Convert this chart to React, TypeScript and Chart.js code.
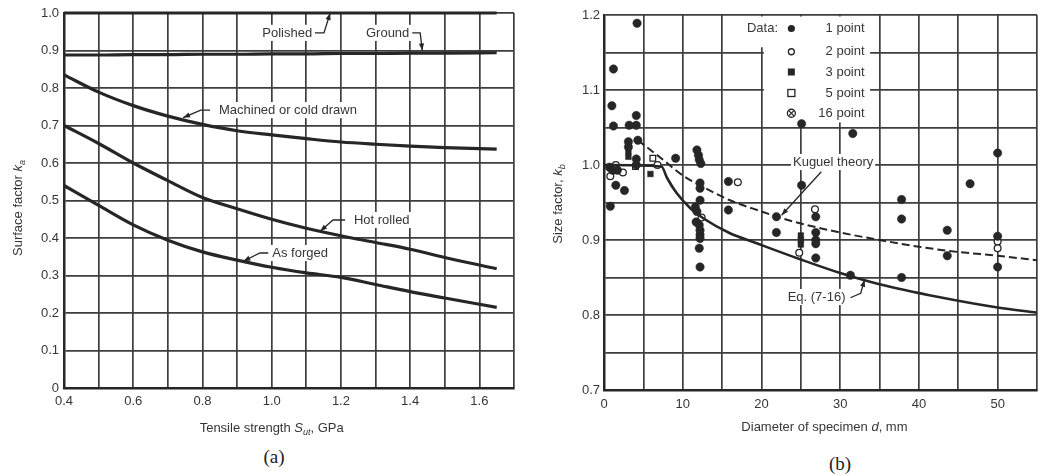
import React, { useEffect, useRef } from 'react';
import { Chart, registerables } from 'chart.js';

Chart.register(...registerables);

// ---------------- (a) Surface factor vs tensile strength ----------------
const strengthGPa = [0.4, 0.5, 0.6, 0.7, 0.8, 0.9, 1.0, 1.1, 1.2, 1.3, 1.4, 1.5, 1.65];
const polished = [1, 1, 1, 1, 1, 1, 1, 1, 1, 1, 1, 1, 1];
const ground = [0.888, 0.888, 0.889, 0.889, 0.89, 0.89, 0.891, 0.891, 0.892, 0.892, 0.893, 0.893, 0.894];
const machined = [0.835, 0.789, 0.753, 0.725, 0.703, 0.686, 0.675, 0.665, 0.656, 0.65, 0.645, 0.641, 0.637];
const hotRolled = [0.7, 0.652, 0.6, 0.553, 0.508, 0.478, 0.45, 0.426, 0.406, 0.388, 0.37, 0.348, 0.318];
const asForged = [0.54, 0.487, 0.435, 0.394, 0.363, 0.341, 0.322, 0.307, 0.295, 0.276, 0.257, 0.24, 0.215];
const surfaceLabels = ['Polished', 'Ground', 'Machined or cold drawn', 'Hot rolled', 'As forged'];

// ---------------- (b) Size factor vs diameter ----------------
const dia1 = [4.2, 1.2, 1.0, 1.2, 3.2, 4.1, 4.1, 4.3, 3.1, 3.1, 4.1, 4.1, 0.7, 1.1, 1.7, 1.5, 2.6, 0.8, 9.1, 11.8, 12.0, 12.1, 12.3, 12.2, 12.2, 12.2, 11.6, 11.8, 11.7, 12.1, 12.2, 12.2, 12.2, 12.1, 12.2, 15.8, 15.8, 21.9, 21.9, 25.1, 25.1, 26.9, 26.9, 26.9, 26.9, 26.9, 31.6, 31.3, 37.8, 37.8, 37.8, 43.6, 43.6, 46.5, 50.0, 50.0, 50.0];
const kb1 = [1.189, 1.128, 1.079, 1.052, 1.053, 1.053, 1.066, 1.033, 1.031, 1.024, 1.008, 1.0, 0.997, 0.993, 0.993, 0.973, 0.966, 0.945, 1.009, 1.02, 1.013, 1.007, 1.002, 0.976, 0.969, 0.953, 0.944, 0.938, 0.924, 0.92, 0.913, 0.907, 0.902, 0.889, 0.864, 0.978, 0.94, 0.931, 0.91, 1.055, 0.973, 0.931, 0.91, 0.9, 0.895, 0.876, 1.042, 0.853, 0.954, 0.928, 0.85, 0.913, 0.879, 0.975, 1.016, 0.905, 0.864];
const dia2 = [0.8, 1.5, 2.4, 6.8, 12.4, 17.0, 24.8, 26.8, 50.0, 50.0];
const kb2 = [0.985, 1.0, 0.99, 1.0, 0.93, 0.977, 0.883, 0.941, 0.898, 0.889];
const dia3 = [3.1, 3.1, 5.9, 25.0, 25.0, 25.0];
const kb3 = [1.018, 1.011, 0.988, 0.906, 0.9, 0.894];
const dia5 = [4.0, 6.2];
const kb5 = [0.998, 1.009];
const kuguelD = [4.3, 7.5, 10, 12.2, 16, 20, 22, 25, 30, 35, 40, 45, 50, 55];
const kuguelKb = [1.033, 1.007, 0.986, 0.973, 0.953, 0.938, 0.931, 0.922, 0.91, 0.9, 0.891, 0.884, 0.879, 0.873];
const eqD = [0, 7.3, 8, 9.2, 11, 12.6, 16, 19.3, 25, 30, 35, 42.5, 50, 55];
const eqKb = [1.0, 0.998, 0.983, 0.963, 0.942, 0.929, 0.909, 0.896, 0.874, 0.856, 0.841, 0.824, 0.81, 0.803];
const legendLabels = ['1 point', '2 point', '3 point', '5 point', '16 point'];
const legendStyles = ['dot', 'ring', 'square', 'box', 'cross'];

const FONT = '"Liberation Sans", Arial, Helvetica, sans-serif';
const INK = '#262626';
const TEXT = '#363636';
const GRID = '#3e3e3e';

type Seg = { t: string; italic?: boolean; sub?: boolean };

function drawRich(ctx: CanvasRenderingContext2D, segs: Seg[], cx: number, cy: number, size: number, rotate: boolean) {
  ctx.save();
  ctx.translate(cx, cy);
  if (rotate) ctx.rotate(-Math.PI / 2);
  const fontFor = (s: Seg) => `${s.italic ? 'italic ' : ''}${s.sub ? Math.round(size * 0.72) : size}px ${FONT}`;
  const widths = segs.map((s) => {
    ctx.font = fontFor(s);
    return ctx.measureText(s.t).width;
  });
  const total = widths.reduce((a, b) => a + b, 0);
  let x = -total / 2;
  ctx.fillStyle = TEXT;
  ctx.textBaseline = 'middle';
  ctx.textAlign = 'left';
  segs.forEach((s, i) => {
    ctx.font = fontFor(s);
    ctx.fillText(s.t, x, s.sub ? size * 0.32 : 0);
    x += widths[i];
  });
  ctx.restore();
}

function arrowPath(ctx: CanvasRenderingContext2D, pts: number[][]) {
  ctx.save();
  ctx.strokeStyle = INK;
  ctx.fillStyle = INK;
  ctx.lineWidth = 1.3;
  ctx.beginPath();
  pts.forEach((p, i) => (i === 0 ? ctx.moveTo(p[0], p[1]) : ctx.lineTo(p[0], p[1])));
  ctx.stroke();
  const [x1, y1] = pts[pts.length - 2];
  const [x2, y2] = pts[pts.length - 1];
  const a = Math.atan2(y2 - y1, x2 - x1);
  const L = 7;
  const W = 2.6;
  ctx.beginPath();
  ctx.moveTo(x2, y2);
  ctx.lineTo(x2 - L * Math.cos(a) + W * Math.sin(a), y2 - L * Math.sin(a) - W * Math.cos(a));
  ctx.lineTo(x2 - L * Math.cos(a) - W * Math.sin(a), y2 - L * Math.sin(a) + W * Math.cos(a));
  ctx.closePath();
  ctx.fill();
  ctx.restore();
}

function boxedText(ctx: CanvasRenderingContext2D, text: string, x: number, y: number, size: number) {
  ctx.save();
  ctx.font = `${size}px ${FONT}`;
  const w = ctx.measureText(text).width;
  const left = x - w / 2;
  ctx.fillStyle = '#ffffff';
  ctx.fillRect(left - 2, y - size * 0.62, w + 4, size * 1.24);
  ctx.fillStyle = TEXT;
  ctx.textBaseline = 'middle';
  ctx.textAlign = 'left';
  ctx.fillText(text, left, y + 0.5);
  ctx.restore();
}

type Note = { text: string; at: number[]; path: number[][] };

const surfaceNotes: Note[] = [
  { text: surfaceLabels[0], at: [1.045, 0.947], path: [[1.125, 0.947], [1.151, 0.947], [1.169, 1.0]] },
  { text: surfaceLabels[1], at: [1.335, 0.947], path: [[1.406, 0.947], [1.429, 0.947], [1.435, 0.9]] },
  { text: surfaceLabels[2], at: [1.047, 0.741], path: [[0.822, 0.741], [0.795, 0.741], [0.744, 0.721]] },
  { text: surfaceLabels[3], at: [1.318, 0.448], path: [[1.212, 0.448], [1.177, 0.448], [1.14, 0.418]] },
  { text: surfaceLabels[4], at: [1.082, 0.36], path: [[0.99, 0.36], [0.966, 0.36], [0.918, 0.338]] },
];

const sizeNotes: Note[] = [
  { text: 'Kuguel theory', at: [29.1, 1.004], path: [[27.6, 0.991], [22.55, 0.933]] },
  { text: 'Eq. (7-16)', at: [27.0, 0.824], path: [[31.3, 0.823], [32.6, 0.829], [33.1, 0.847]] },
];

function drawNotes(chart: any, notes: Note[]) {
  const ctx: CanvasRenderingContext2D = chart.ctx;
  const xs = chart.scales.x;
  const ys = chart.scales.y;
  notes.forEach((n) => {
    const pts = n.path.map((p) => [xs.getPixelForValue(p[0]), ys.getPixelForValue(p[1])]);
    arrowPath(ctx, pts);
    boxedText(ctx, n.text, xs.getPixelForValue(n.at[0]), ys.getPixelForValue(n.at[1]), 13);
  });
}

const surfacePlugin = {
  id: 'surfaceNotes',
  afterDatasetsDraw(chart: any) {
    drawNotes(chart, surfaceNotes);
    const ctx = chart.ctx;
    const xs = chart.scales.x;
    const ys = chart.scales.y;
    const a = chart.chartArea;
    drawRich(ctx, [{ t: 'Tensile strength ' }, { t: 'S', italic: true }, { t: 'ut', italic: true, sub: true }, { t: ', GPa' }], xs.getPixelForValue(1.0), a.bottom + 40, 13, false);
    drawRich(ctx, [{ t: 'Surface factor ' }, { t: 'k', italic: true }, { t: 'a', italic: true, sub: true }], 18, ys.getPixelForValue(0.48), 13, true);
  },
};

function drawMarker(ctx: CanvasRenderingContext2D, style: string, x: number, y: number) {
  ctx.save();
  ctx.strokeStyle = INK;
  ctx.fillStyle = INK;
  ctx.lineWidth = 1.3;
  if (style === 'dot') {
    ctx.beginPath();
    ctx.arc(x, y, 3.6, 0, Math.PI * 2);
    ctx.fill();
  } else if (style === 'ring') {
    ctx.beginPath();
    ctx.arc(x, y, 3, 0, Math.PI * 2);
    ctx.fillStyle = '#fff';
    ctx.fill();
    ctx.stroke();
  } else if (style === 'square') {
    ctx.fillRect(x - 3.5, y - 3.5, 7, 7);
  } else if (style === 'box') {
    ctx.fillStyle = '#fff';
    ctx.fillRect(x - 3.5, y - 3.5, 7, 7);
    ctx.strokeRect(x - 3.5, y - 3.5, 7, 7);
  } else {
    ctx.beginPath();
    ctx.arc(x, y, 4, 0, Math.PI * 2);
    ctx.stroke();
    const d = 2.6;
    ctx.beginPath();
    ctx.moveTo(x - d, y - d);
    ctx.lineTo(x + d, y + d);
    ctx.moveTo(x + d, y - d);
    ctx.lineTo(x - d, y + d);
    ctx.stroke();
  }
  ctx.restore();
}

const sizePlugin = {
  id: 'sizeNotes',
  beforeDatasetsDraw(chart: any) {
    // legend panel (white background over the grid)
    const ctx: CanvasRenderingContext2D = chart.ctx;
    const xs = chart.scales.x;
    const ys = chart.scales.y;
    ctx.save();
    ctx.fillStyle = '#ffffff';
    const r1x = xs.getPixelForValue(17.3);
    const r2x = xs.getPixelForValue(20.3);
    const rR = xs.getPixelForValue(33.8);
    const yTop = ys.getPixelForValue(1.2) + 1.5;
    const yMid = ys.getPixelForValue(1.157);
    const yBot = ys.getPixelForValue(1.056);
    ctx.fillRect(r1x, yTop, rR - r1x, yMid - yTop);
    ctx.fillRect(r2x, yMid - 0.5, rR - r2x, yBot - yMid);
    ctx.restore();
  },
  afterDatasetsDraw(chart: any) {
    const ctx: CanvasRenderingContext2D = chart.ctx;
    const xs = chart.scales.x;
    const ys = chart.scales.y;
    const a = chart.chartArea;
    const rows = [1.182, 1.151, 1.124, 1.096, 1.069];
    ctx.save();
    ctx.font = `13px ${FONT}`;
    ctx.fillStyle = TEXT;
    ctx.textBaseline = 'middle';
    ctx.textAlign = 'right';
    ctx.fillText('Data:', xs.getPixelForValue(22.1), ys.getPixelForValue(rows[0]));
    legendLabels.forEach((lab, i) => {
      ctx.fillText(lab, xs.getPixelForValue(33.1), ys.getPixelForValue(rows[i]));
    });
    ctx.restore();
    legendStyles.forEach((s, i) => drawMarker(ctx, s, xs.getPixelForValue(23.8), ys.getPixelForValue(rows[i])));
    drawNotes(chart, sizeNotes);
    drawRich(ctx, [{ t: 'Diameter of specimen ' }, { t: 'd', italic: true }, { t: ', mm' }], xs.getPixelForValue(28), a.bottom + 37, 13, false);
    drawRich(ctx, [{ t: 'Size factor, ' }, { t: 'k', italic: true }, { t: 'b', italic: true, sub: true }], 38, ys.getPixelForValue(0.948), 13, true);
  },
};

const pts = (xs: number[], ys: number[]) => xs.map((x, i) => ({ x, y: ys[i] }));

function lineDs(label: string, ys: number[]) {
  return {
    label,
    data: pts(strengthGPa, ys),
    borderColor: INK,
    borderWidth: 3.2,
    pointRadius: 0,
    cubicInterpolationMode: 'monotone' as const,
    fill: false,
    clip: 4,
  };
}

const tickFont = { family: FONT, size: 13 };

export default function App() {
  const leftRef = useRef<HTMLCanvasElement>(null);
  const rightRef = useRef<HTMLCanvasElement>(null);

  useEffect(() => {
    const left = new Chart(leftRef.current as HTMLCanvasElement, {
      type: 'line',
      data: {
        datasets: [
          lineDs('Polished', polished),
          lineDs('Ground', ground),
          lineDs('Machined or cold drawn', machined),
          lineDs('Hot rolled', hotRolled),
          lineDs('As forged', asForged),
        ],
      },
      options: {
        responsive: false,
        animation: false,
        devicePixelRatio: 1,
        layout: { padding: { left: 0, right: 6, top: 13, bottom: 0 } },
        plugins: { legend: { display: false }, tooltip: { enabled: false } },
        scales: {
          x: {
            type: 'linear',
            min: 0.4,
            max: 1.7,
            ticks: {
              stepSize: 0.1,
              autoSkip: false,
              maxRotation: 0,
              padding: 6,
              color: TEXT,
              font: tickFont,
              callback: (v: any) => (Math.round(Number(v) * 10) % 2 === 0 ? Number(v).toFixed(1) : ''),
            },
            grid: { color: GRID, lineWidth: 1.7, drawTicks: false },
            border: { color: INK, width: 2.5 },
            afterFit: (s: any) => {
              s.height = 57;
            },
          },
          y: {
            type: 'linear',
            min: 0,
            max: 1.0,
            ticks: {
              stepSize: 0.1,
              autoSkip: false,
              padding: 5,
              color: TEXT,
              font: tickFont,
              callback: (v: any) => (Number(v) === 0 ? '0' : Number(v).toFixed(1)),
            },
            grid: { color: GRID, lineWidth: 1.7, drawTicks: false },
            border: { color: INK, width: 2.5 },
            afterFit: (s: any) => {
              s.width = 64;
            },
          },
        },
      },
      plugins: [surfacePlugin],
    } as any);

    const scatterDs = (label: string, xs: number[], ys: number[], style: string, filled: boolean, r: number) => ({
      type: 'scatter',
      label,
      data: pts(xs, ys),
      showLine: false,
      pointStyle: style,
      pointRadius: r,
      pointBackgroundColor: filled ? INK : '#ffffff',
      pointBorderColor: INK,
      pointBorderWidth: filled ? 0.5 : 1.3,
      clip: 6,
    });

    const right = new Chart(rightRef.current as HTMLCanvasElement, {
      type: 'line',
      data: {
        datasets: [
          {
            label: 'Kuguel theory',
            data: pts(kuguelD, kuguelKb),
            borderColor: INK,
            borderWidth: 2,
            borderDash: [8, 4],
            pointRadius: 0,
            cubicInterpolationMode: 'monotone',
            fill: false,
          },
          {
            label: 'Eq. (7-16)',
            data: pts(eqD, eqKb),
            borderColor: INK,
            borderWidth: 2.6,
            pointRadius: 0,
            cubicInterpolationMode: 'monotone',
            fill: false,
          },
          scatterDs('1 point', dia1, kb1, 'circle', true, 4.2),
          scatterDs('2 point', dia2, kb2, 'circle', false, 3.4),
          scatterDs('3 point', dia3, kb3, 'rect', true, 4),
          scatterDs('5 point', dia5, kb5, 'rect', false, 4),
        ],
      },
      options: {
        responsive: false,
        animation: false,
        devicePixelRatio: 1,
        layout: { padding: { left: 0, right: 8, top: 15, bottom: 0 } },
        plugins: { legend: { display: false }, tooltip: { enabled: false } },
        scales: {
          x: {
            type: 'linear',
            min: 0,
            max: 55,
            ticks: {
              stepSize: 5,
              autoSkip: false,
              maxRotation: 0,
              padding: 7,
              color: TEXT,
              font: tickFont,
              callback: (v: any) => (Number(v) % 10 === 0 && Number(v) <= 50 ? String(v) : ''),
            },
            grid: { color: GRID, lineWidth: 1.7, drawTicks: false },
            border: { color: INK, width: 2.5 },
            afterFit: (s: any) => {
              s.height = 55;
            },
          },
          y: {
            type: 'linear',
            min: 0.7,
            max: 1.2,
            ticks: {
              stepSize: 0.05,
              autoSkip: false,
              padding: 4,
              color: TEXT,
              font: tickFont,
              callback: (v: any) => (Math.round(Number(v) * 100) % 10 === 0 ? Number(v).toFixed(1) : ''),
            },
            grid: { color: GRID, lineWidth: 1.7, drawTicks: false },
            border: { color: INK, width: 2.5 },
            afterFit: (s: any) => {
              s.width = 84;
            },
          },
        },
      },
      plugins: [sizePlugin],
    } as any);

    return () => {
      left.destroy();
      right.destroy();
    };
  }, []);

  const caption: React.CSSProperties = {
    position: 'absolute',
    fontFamily: '"Liberation Serif", "Times New Roman", serif',
    fontSize: 19,
    color: '#222',
    transform: 'translate(-50%, -50%)',
    whiteSpace: 'nowrap',
  };

  return (
    <div style={{ position: 'absolute', left: 0, top: 0, width: 1045, height: 476, background: '#ffffff', overflow: 'hidden' }}>
      <canvas ref={leftRef} width={520} height={445} style={{ position: 'absolute', left: 0, top: 0, width: 520, height: 445 }} />
      <canvas ref={rightRef} width={525} height={445} style={{ position: 'absolute', left: 520, top: 0, width: 525, height: 445 }} />
      <div style={{ ...caption, left: 274, top: 457 }}>(a)</div>
      <div style={{ ...caption, left: 840, top: 464 }}>(b)</div>
    </div>
  );
}
